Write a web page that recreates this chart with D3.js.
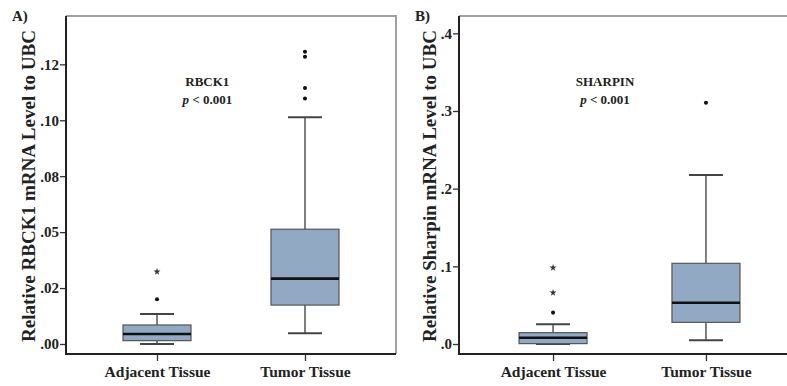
<!DOCTYPE html>
<html>
<head>
<meta charset="utf-8">
<script src="https://cdn.jsdelivr.net/npm/d3@7"></script>
<style>
  body { margin: 0; background: #fff; }
  svg { display: block; font-family: "Liberation Serif", "Times New Roman", serif; font-weight: bold; }
</style>
</head>
<body>
<div id="chart"></div>
<script>
// Categories
const groups = ["Adjacent Tissue", "Tumor Tissue"];

// Panel A - RBCK1
const rbck1Q1 = [0.0015, 0.0174];
const rbck1Median = [0.0045, 0.0292];
const rbck1Q3 = [0.0085, 0.0513];
const rbck1WhiskerLow = [0.0, 0.0048];
const rbck1WhiskerHigh = [0.0134, 0.1013];
const rbck1Outliers = [[0.0200], [0.1306, 0.1284, 0.1144, 0.1097]];
const rbck1Extremes = [[0.0323], []];
const rbck1Ticks = [0, 0.025, 0.05, 0.075, 0.1, 0.125];
const rbck1TickLabels = [".00", ".02", ".05", ".08", ".10", ".12"];

// Panel B - SHARPIN
const sharpinQ1 = [0.0005, 0.0279];
const sharpinMedian = [0.0081, 0.0532];
const sharpinQ3 = [0.0146, 0.1039];
const sharpinWhiskerLow = [0.0, 0.0048];
const sharpinWhiskerHigh = [0.0253, 0.2176];
const sharpinOutliers = [[0.0404], [0.3107]];
const sharpinExtremes = [[0.0982, 0.0660], []];
const sharpinTicks = [0, 0.1, 0.2, 0.3, 0.4];
const sharpinTickLabels = [".0", ".1", ".2", ".3", ".4"];

const width = 787;
const height = 386;

const svg = d3.select('#chart')
    .append('svg')
    .attr('width', width)
    .attr('height', height);

const boxFill = '#92a9c4';

function drawPanel(p) {
    const g = svg.append('g');

    const x = d3.scalePoint()
        .domain(groups)
        .range([p.left, p.right])
        .padding(0.615);

    const y = d3.scaleLinear()
        .domain(p.domain)
        .range([p.bottom, p.top]);

    const boxW = 68;
    const capW = 34;

    // frame: light top / right border
    g.append('path')
        .attr('d', `M${p.left},${p.top}H${p.right}V${p.bottom}`)
        .attr('fill', 'none')
        .attr('stroke', '#a0a0a0')
        .attr('stroke-width', 2);

    // y axis
    const yAxis = d3.axisLeft(y)
        .tickValues(p.ticks)
        .tickFormat((d, i) => p.tickLabels[i])
        .tickSize(6)
        .tickPadding(1);

    const ya = g.append('g')
        .attr('transform', `translate(${p.left},0)`)
        .call(yAxis);
    ya.select('.domain').remove();
    ya.selectAll('.tick line').attr('stroke', '#333').attr('stroke-width', 1.3);
    ya.selectAll('.tick text')
        .attr('fill', '#222')
        .style('font-size', '15px')
        .style('font-family', '"Liberation Serif", serif')
        .style('font-weight', 'bold');

    // x axis
    const xAxis = d3.axisBottom(x).tickSize(7).tickPadding(5);
    const xa = g.append('g')
        .attr('transform', `translate(0,${p.bottom})`)
        .call(xAxis);
    xa.select('.domain').remove();
    xa.selectAll('.tick line').attr('stroke', '#333').attr('stroke-width', 1.3);
    xa.selectAll('.tick text')
        .attr('fill', '#222')
        .attr('dy', '0.71em')
        .style('font-size', '15.5px')
        .style('font-family', '"Liberation Serif", serif')
        .style('font-weight', 'bold');

    // axis lines (left + bottom)
    g.append('path')
        .attr('d', `M${p.left},${p.top}V${p.bottom}H${p.right}`)
        .attr('fill', 'none')
        .attr('stroke', '#222')
        .attr('stroke-width', 2);

    // boxes
    groups.forEach((grp, i) => {
        const cx = x(grp);

        // whiskers
        g.append('line')
            .attr('x1', cx).attr('x2', cx)
            .attr('y1', y(p.whiskerHigh[i])).attr('y2', y(p.q3[i]))
            .attr('stroke', '#555').attr('stroke-width', 1.5);
        g.append('line')
            .attr('x1', cx).attr('x2', cx)
            .attr('y1', y(p.q1[i])).attr('y2', y(p.whiskerLow[i]))
            .attr('stroke', '#555').attr('stroke-width', 1.5);
        [p.whiskerHigh[i], p.whiskerLow[i]].forEach(v => {
            g.append('line')
                .attr('x1', cx - capW / 2).attr('x2', cx + capW / 2)
                .attr('y1', y(v)).attr('y2', y(v))
                .attr('stroke', '#444').attr('stroke-width', 2);
        });

        // box
        g.append('rect')
            .attr('x', cx - boxW / 2)
            .attr('y', y(p.q3[i]))
            .attr('width', boxW)
            .attr('height', y(p.q1[i]) - y(p.q3[i]))
            .attr('fill', boxFill)
            .attr('stroke', '#555')
            .attr('stroke-width', 1.2);

        // median
        g.append('line')
            .attr('x1', cx - boxW / 2).attr('x2', cx + boxW / 2)
            .attr('y1', y(p.median[i])).attr('y2', y(p.median[i]))
            .attr('stroke', '#111').attr('stroke-width', 2.6);

        // outliers (dots)
        g.selectAll(null)
            .data(p.outliers[i])
            .enter()
            .append('path')
            .attr('transform', d => `translate(${cx},${y(d)})`)
            .attr('d', d3.symbol().type(d3.symbolCircle).size(13))
            .attr('fill', '#111');

        // extremes (stars)
        g.selectAll(null)
            .data(p.extremes[i])
            .enter()
            .append('path')
            .attr('transform', d => `translate(${cx},${y(d)})`)
            .attr('d', d3.symbol().type(d3.symbolStar).size(15))
            .attr('fill', '#333');
    });

    // annotation
    const ax = x(groups[0]) + (x(groups[1]) - x(groups[0])) * 0.34;
    g.append('text')
        .attr('x', ax)
        .attr('y', 86)
        .attr('text-anchor', 'middle')
        .attr('fill', '#222')
        .style('font-size', '13px')
        .text(p.gene);
    const pt = g.append('text')
        .attr('x', ax)
        .attr('y', 104)
        .attr('text-anchor', 'middle')
        .attr('fill', '#222')
        .style('font-size', '13px');
    pt.append('tspan').style('font-style', 'italic').text('p');
    pt.append('tspan').text(' < 0.001');

    // y title
    g.append('text')
        .attr('transform', `translate(${p.titleX},186) rotate(-90)`)
        .attr('text-anchor', 'middle')
        .attr('dy', '0.35em')
        .attr('fill', '#222')
        .attr('textLength', 312)
        .attr('lengthAdjust', 'spacingAndGlyphs')
        .style('font-size', '18px')
        .text(p.yTitle);

    // panel letter
    g.append('text')
        .attr('x', p.letterX)
        .attr('y', 21)
        .attr('fill', '#222')
        .style('font-size', '15px')
        .text(p.letter);
}

drawPanel({
    left: 66, right: 396, top: 16, bottom: 354,
    domain: [-0.00447, 0.1466],
    ticks: rbck1Ticks, tickLabels: rbck1TickLabels,
    q1: rbck1Q1, median: rbck1Median, q3: rbck1Q3,
    whiskerLow: rbck1WhiskerLow, whiskerHigh: rbck1WhiskerHigh,
    outliers: rbck1Outliers, extremes: rbck1Extremes,
    gene: 'RBCK1',
    yTitle: 'Relative RBCK1 mRNA Level to UBC',
    titleX: 28.5,
    letter: 'A)', letterX: 12
});

drawPanel({
    left: 459, right: 800, top: 16, bottom: 354,
    domain: [-0.01287, 0.4223],
    ticks: sharpinTicks, tickLabels: sharpinTickLabels,
    q1: sharpinQ1, median: sharpinMedian, q3: sharpinQ3,
    whiskerLow: sharpinWhiskerLow, whiskerHigh: sharpinWhiskerHigh,
    outliers: sharpinOutliers, extremes: sharpinExtremes,
    gene: 'SHARPIN',
    yTitle: 'Relative Sharpin mRNA Level to UBC',
    titleX: 430,
    letter: 'B)', letterX: 415
});
</script>
</body>
</html>
